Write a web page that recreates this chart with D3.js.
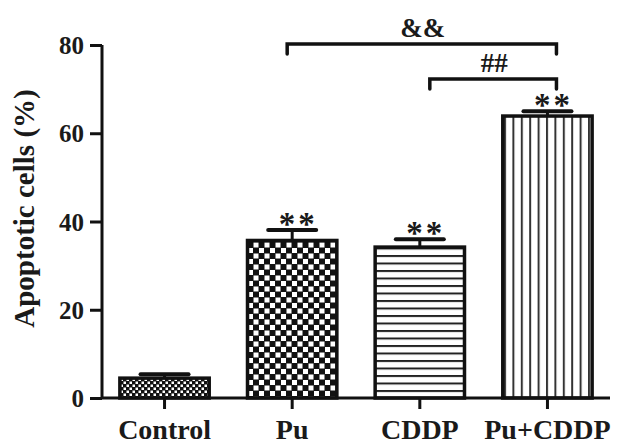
<!DOCTYPE html>
<html>
<head>
<meta charset="utf-8">
<script src="https://cdn.jsdelivr.net/npm/d3@7"></script>
<style>
  body { margin: 0; background: #fff; }
  text { font-family: "Liberation Serif", "Times New Roman", serif; font-weight: bold; fill: #1a1a1a; }
</style>
</head>
<body>
<script>
// data
var groups = ["Control", "Pu", "CDDP", "Pu+CDDP"];
var means = [4.5, 35.7, 34.2, 63.9];
var errors = [0.9, 2.4, 1.8, 1.1];
var stars = ["", "**", "**", "**"];
var yTicks = [0, 20, 40, 60, 80];
// significance brackets: [from, to, label]
var brackets = [["Pu", "Pu+CDDP", "&&"], ["CDDP", "Pu+CDDP", "##"]];

var W = 622, H = 445;
var margin = {top: 45, right: 12, bottom: 47, left: 102};

var svg = d3.select("body").append("svg")
    .attr("width", W)
    .attr("height", H);

var defs = svg.append("defs");

// fine dotted fill for control
var p0 = defs.append("pattern").attr("id", "pat0").attr("patternUnits", "userSpaceOnUse")
    .attr("width", 6).attr("height", 6);
p0.append("rect").attr("width", 6).attr("height", 6).attr("fill", "#111");
p0.append("rect").attr("x", 0.5).attr("y", 0.5).attr("width", 2.5).attr("height", 2.5).attr("fill", "#fff");
p0.append("rect").attr("x", 3.5).attr("y", 3.5).attr("width", 2.5).attr("height", 2.5).attr("fill", "#fff");

// coarse checkerboard for Pu
var p1 = defs.append("pattern").attr("id", "pat1").attr("patternUnits", "userSpaceOnUse")
    .attr("width", 11).attr("height", 11);
p1.append("rect").attr("width", 11).attr("height", 11).attr("fill", "#111");
p1.append("rect").attr("x", 0.5).attr("y", 0.5).attr("width", 5).attr("height", 5).attr("fill", "#fff");
p1.append("rect").attr("x", 6).attr("y", 6).attr("width", 5).attr("height", 5).attr("fill", "#fff");

// horizontal lines for CDDP
var p2 = defs.append("pattern").attr("id", "pat2").attr("patternUnits", "userSpaceOnUse")
    .attr("width", 10).attr("height", 7.5);
p2.append("rect").attr("width", 10).attr("height", 7.5).attr("fill", "#fff");
p2.append("rect").attr("y", 0).attr("width", 10).attr("height", 2).attr("fill", "#222");

// vertical lines for Pu+CDDP
var p3 = defs.append("pattern").attr("id", "pat3").attr("patternUnits", "userSpaceOnUse")
    .attr("width", 8.4).attr("height", 10);
p3.append("rect").attr("width", 8.4).attr("height", 10).attr("fill", "#fff");
p3.append("rect").attr("x", 0).attr("width", 2).attr("height", 10).attr("fill", "#333");

var x = d3.scaleBand()
    .domain(groups)
    .range([margin.left, W - margin.right])
    .paddingInner(0.3)
    .paddingOuter(0.14);

var y = d3.scaleLinear()
    .domain([0, 80])
    .range([H - margin.bottom, margin.top]);

var g = svg.append("g");

// bars
g.selectAll("rect.bar")
    .data(groups)
  .enter().append("rect")
    .attr("class", "bar")
    .attr("x", function(d) { return x(d); })
    .attr("y", function(d, i) { return y(means[i]); })
    .attr("width", x.bandwidth())
    .attr("height", function(d, i) { return y(0) - y(means[i]); })
    .attr("fill", function(d, i) { return "url(#pat" + i + ")"; })
    .attr("stroke", "#111")
    .attr("stroke-width", 3.5);

// error bars (upper only)
var capW = 48;
groups.forEach(function(d, i) {
    var cx = x(d) + x.bandwidth() / 2;
    g.append("line")
        .attr("x1", cx).attr("x2", cx)
        .attr("y1", y(means[i])).attr("y2", y(means[i] + errors[i]))
        .attr("stroke", "#111").attr("stroke-width", 3);
    g.append("line")
        .attr("x1", cx - capW / 2).attr("x2", cx + capW / 2)
        .attr("y1", y(means[i] + errors[i])).attr("y2", y(means[i] + errors[i]))
        .attr("stroke", "#111").attr("stroke-width", 4).attr("stroke-linecap", "round");
    if (stars[i]) {
        g.append("text")
            .attr("x", cx + 6)
            .attr("y", y(means[i] + errors[i]) + 5)
            .attr("text-anchor", "middle")
            .attr("font-size", 33)
            .attr("letter-spacing", 3)
            .text(stars[i]);
    }
});

// axes
var yAxis = svg.append("g")
    .attr("transform", "translate(" + margin.left + ",0)")
    .call(d3.axisLeft(y).tickValues(yTicks).tickSize(12).tickPadding(6));
var xAxis = svg.append("g")
    .attr("transform", "translate(0," + y(0) + ")")
    .call(d3.axisBottom(x).tickSize(11).tickPadding(10));

[yAxis, xAxis].forEach(function(ax) {
    ax.select(".domain").attr("stroke", "#111").attr("stroke-width", 3);
    ax.selectAll(".tick line").attr("stroke", "#111").attr("stroke-width", 3);
    ax.selectAll("text").attr("font-family", null).attr("fill", "#1a1a1a");
});
yAxis.select(".domain").attr("d", "M0," + y(80) + "V" + y(0));
xAxis.select(".domain").attr("d", "M" + margin.left + ",0H" + (W - margin.right));
yAxis.selectAll("text").attr("font-size", 25).attr("dy", "0.34em");
xAxis.selectAll("text").attr("font-size", 28).attr("dy", "0.72em");

// y title
svg.append("text")
    .attr("transform", "translate(34," + ((y(0) + y(80)) / 2 - 13) + ") rotate(-90)")
    .attr("text-anchor", "middle")
    .attr("font-size", 29)
    .text("Apoptotic cells (%)");

// significance brackets
var brY = [44, 79];
brackets.forEach(function(b, k) {
    var x1 = x(b[0]) + x.bandwidth() / 2 + (k === 0 ? -5 : 10);
    var x2 = x(b[1]) + x.bandwidth() / 2 + 9;
    var by = brY[k];
    svg.append("path")
        .attr("d", "M" + x1 + "," + (by + 10) + "V" + by + "H" + x2 + "V" + (by + 10))
        .attr("fill", "none")
        .attr("stroke", "#111")
        .attr("stroke-width", 3.5)
        .attr("stroke-linecap", "round");
    svg.append("text")
        .attr("x", (x1 + x2) / 2 + 1)
        .attr("y", by - 7)
        .attr("text-anchor", "middle")
        .attr("font-size", 27)
        .text(b[2]);
});
</script>
</body>
</html>
